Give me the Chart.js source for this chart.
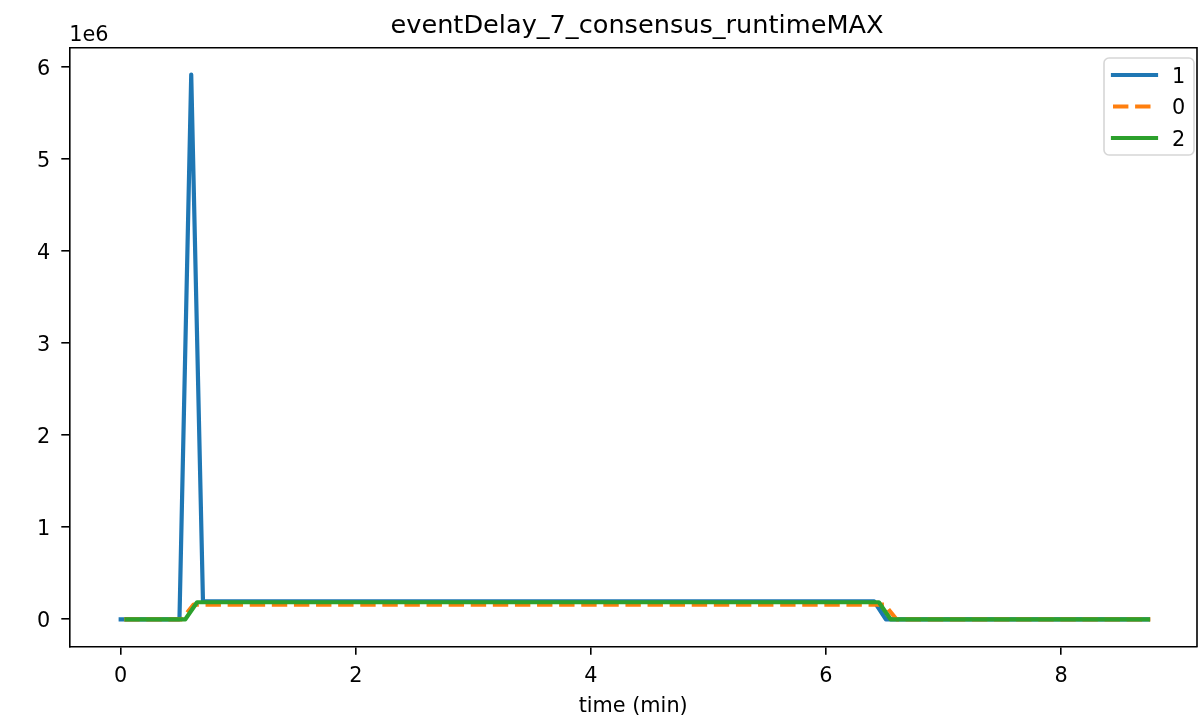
<!DOCTYPE html>
<html>
<head>
<meta charset="utf-8">
<script src="https://cdn.jsdelivr.net/npm/chart.js@4.4.1/dist/chart.umd.min.js"></script>
<style>
  html, body { margin: 0; padding: 0; background: #fff; }
</style>
</head>
<body>
<canvas id="delayChart" width="1198" height="719"></canvas>
<script>
const chartTitle = "eventDelay_7_consensus_runtimeMAX";
const xLabel = "time (min)";
const seriesNames = ["1", "0", "2"];
const seriesColors = ["#1f77b4", "#ff7f0e", "#2ca02c"];

// node "1" - the one with the early spike
const timeNode1 = [0, 0.5, 0.6, 0.7, 6.41, 6.51, 8.74];
const delayNode1 = [0, 0, 5920000, 195000, 195000, 0, 0];

// node "0" (dashed)
const timeNode0 = [0.03, 0.52, 0.62, 6.5, 6.6, 8.76];
const delayNode0 = [0, 0, 160000, 160000, 0, 0];

// node "2"
const timeNode2 = [0.05, 0.55, 0.65, 6.45, 6.55, 8.74];
const delayNode2 = [0, 0, 185000, 185000, 0, 0];

const xTicks = [0, 2, 4, 6, 8];
const yTicks = [0, 1e6, 2e6, 3e6, 4e6, 5e6, 6e6];

const FONT = "'DejaVu Sans', sans-serif";

function toPoints(ts, vs) {
  return ts.map((t, i) => ({ x: t, y: vs[i] }));
}

// matplotlib-ish frame, title, offset text and legend
const mplExtras = {
  id: 'mplExtras',
  afterDraw(chart) {
    const ctx = chart.ctx;
    const a = chart.chartArea;
    ctx.save();

    // top + right spines
    ctx.strokeStyle = '#000';
    ctx.lineWidth = 1.6;
    ctx.beginPath();
    ctx.moveTo(a.left, a.top);
    ctx.lineTo(a.right, a.top);
    ctx.lineTo(a.right, a.bottom);
    ctx.stroke();

    // title
    ctx.fillStyle = '#000';
    ctx.font = "25.6px " + FONT;
    ctx.textAlign = 'center';
    ctx.textBaseline = 'alphabetic';
    ctx.fillText(chartTitle, 637, 33);

    // axis offset text
    ctx.font = "20.8px " + FONT;
    ctx.textAlign = 'left';
    ctx.fillText("1e6", a.left, 41);

    // legend box
    const bx = 1104, by = 58, bw = 90, bh = 97, r = 5;
    ctx.fillStyle = 'rgba(255,255,255,0.8)';
    ctx.strokeStyle = 'rgba(204,204,204,0.8)';
    ctx.lineWidth = 1.6;
    ctx.beginPath();
    ctx.moveTo(bx + r, by);
    ctx.arcTo(bx + bw, by, bx + bw, by + bh, r);
    ctx.arcTo(bx + bw, by + bh, bx, by + bh, r);
    ctx.arcTo(bx, by + bh, bx, by, r);
    ctx.arcTo(bx, by, bx + bw, by, r);
    ctx.closePath();
    ctx.fill();
    ctx.stroke();

    chart.data.datasets.forEach((ds, i) => {
      const y = 75 + i * 31.5;
      ctx.strokeStyle = ds.borderColor;
      ctx.lineWidth = ds.borderWidth;
      ctx.setLineDash(ds.borderDash || []);
      ctx.lineCap = ds.borderDash ? 'butt' : 'square';
      ctx.beginPath();
      ctx.moveTo(1113, y);
      ctx.lineTo(1156, y);
      ctx.stroke();
      ctx.setLineDash([]);
      ctx.fillStyle = '#000';
      ctx.font = "20.8px " + FONT;
      ctx.textAlign = 'left';
      ctx.textBaseline = 'middle';
      ctx.fillText(ds.label, 1172, y + 2.5);
    });

    ctx.restore();
  }
};

const ctx = document.getElementById('delayChart').getContext('2d');

new Chart(ctx, {
  type: 'line',
  data: {
    datasets: [
      {
        label: seriesNames[0],
        data: toPoints(timeNode1, delayNode1),
        borderColor: seriesColors[0],
        borderWidth: 4.2,
        borderCapStyle: 'square',
        borderJoinStyle: 'round',
        order: 3
      },
      {
        label: seriesNames[1],
        data: toPoints(timeNode0, delayNode0),
        borderColor: seriesColors[1],
        borderWidth: 4.2,
        borderDash: [15.4, 6.7],
        borderCapStyle: 'butt',
        borderJoinStyle: 'round',
        order: 2
      },
      {
        label: seriesNames[2],
        data: toPoints(timeNode2, delayNode2),
        borderColor: seriesColors[2],
        borderWidth: 4.2,
        borderCapStyle: 'square',
        borderJoinStyle: 'round',
        order: 1
      }
    ]
  },
  options: {
    responsive: false,
    animation: false,
    devicePixelRatio: 1,
    elements: { point: { radius: 0 }, line: { tension: 0 } },
    layout: { padding: { left: 0, right: 1, top: 47.7, bottom: 0 } },
    plugins: {
      legend: { display: false },
      title: { display: false },
      tooltip: { enabled: false }
    },
    scales: {
      x: {
        type: 'linear',
        min: -0.4373,
        max: 9.157,
        afterBuildTicks: s => { s.ticks = xTicks.map(v => ({ value: v })); },
        afterFit: s => { s.height = 72.3; },
        ticks: {
          color: '#000',
          font: { family: FONT, size: 20.8 },
          padding: 9,
          maxRotation: 0,
          callback: v => String(v)
        },
        grid: { drawOnChartArea: false, color: '#000', lineWidth: 1.6, tickLength: 8 },
        border: { color: '#000', width: 1.6 },
        title: {
          display: true,
          text: xLabel,
          color: '#000',
          font: { family: FONT, size: 20.8 },
          padding: { top: 0, bottom: 0 }
        }
      },
      y: {
        type: 'linear',
        min: -298000,
        max: 6213000,
        afterBuildTicks: s => { s.ticks = yTicks.map(v => ({ value: v })); },
        afterFit: s => { s.width = 69.3; },
        ticks: {
          color: '#000',
          font: { family: FONT, size: 20.8 },
          padding: 11,
          labelOffset: 2,
          callback: v => String(v / 1e6)
        },
        grid: { drawOnChartArea: false, color: '#000', lineWidth: 1.6, tickLength: 8 },
        border: { color: '#000', width: 1.6 }
      }
    }
  },
  plugins: [mplExtras]
});
</script>
</body>
</html>
